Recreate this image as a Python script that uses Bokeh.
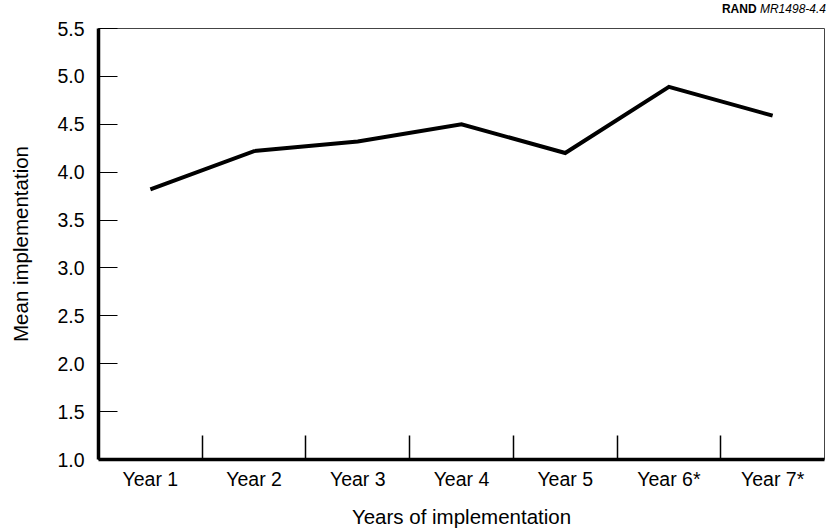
from bokeh.plotting import figure
from bokeh.models import FixedTicker, Range1d, ColumnDataSource, Div
from bokeh.layouts import column
from bokeh.embed import file_html
from bokeh.resources import INLINE

categories = ["Year 1", "Year 2", "Year 3", "Year 4", "Year 5", "Year 6*", "Year 7*"]
mean_impl = [3.82, 4.22, 4.32, 4.5, 4.2, 4.89, 4.59]
y_ticks = [1.0, 1.5, 2.0, 2.5, 3.0, 3.5, 4.0, 4.5, 5.0, 5.5]

xpos = [i + 0.5 for i in range(len(categories))]
separators = list(range(1, len(categories)))

FONT = "Liberation Sans"

note = Div(text='<b>RAND</b> <i>MR1498-4.4</i>', width=826, height=16,
           styles={"text-align": "right", "font-family": FONT, "font-size": "12px",
                   "color": "black", "padding-top": "2px", "line-height": "14px",
                   "margin": "0px"})

p = figure(width=826, height=515, output_backend="svg", toolbar_location=None,
           x_range=Range1d(0, len(categories)), y_range=Range1d(1.0, 5.5),
           min_border_left=98, min_border_right=2, min_border_top=12, min_border_bottom=72)
p.background_fill_color = "white"
p.border_fill_color = "white"
p.xgrid.visible = False
p.ygrid.visible = False
p.outline_line_color = "#444444"
p.outline_line_width = 1

src = ColumnDataSource(dict(x=xpos, y=mean_impl))
p.line("x", "y", source=src, line_color="black", line_width=4, line_join="miter")

p.xaxis.ticker = FixedTicker(ticks=xpos, minor_ticks=separators)
p.xaxis.major_label_overrides = {x: c for x, c in zip(xpos, categories)}
p.xaxis.major_tick_in = 0
p.xaxis.major_tick_out = 0
p.xaxis.minor_tick_in = 24
p.xaxis.minor_tick_out = 0
p.xaxis.minor_tick_line_color = "black"
p.xaxis.minor_tick_line_width = 1.5
p.xaxis.axis_line_width = 3.5
p.xaxis.axis_line_color = "black"
p.xaxis.major_label_text_font = FONT
p.xaxis.major_label_text_font_size = "19.5px"
p.xaxis.major_label_text_color = "black"
p.xaxis.major_label_standoff = 8
p.xaxis.axis_label = "Years of implementation"
p.xaxis.axis_label_text_font = FONT
p.xaxis.axis_label_text_font_size = "20.5px"
p.xaxis.axis_label_text_font_style = "normal"
p.xaxis.axis_label_text_color = "black"
p.xaxis.axis_label_standoff = 12

p.yaxis.ticker = FixedTicker(ticks=y_ticks, minor_ticks=[])
p.yaxis.major_label_overrides = {t: f"{t:.1f}" for t in y_ticks}
p.yaxis.major_tick_in = 19
p.yaxis.major_tick_out = 0
p.yaxis.major_tick_line_color = "black"
p.yaxis.major_tick_line_width = 1.2
p.yaxis.axis_line_width = 3.5
p.yaxis.axis_line_color = "black"
p.yaxis.major_label_text_font = FONT
p.yaxis.major_label_text_font_size = "19.5px"
p.yaxis.major_label_text_color = "black"
p.yaxis.major_label_standoff = 14
p.yaxis.axis_label = "Mean implementation"
p.yaxis.axis_label_text_font = FONT
p.yaxis.axis_label_text_font_size = "20.5px"
p.yaxis.axis_label_text_font_style = "normal"
p.yaxis.axis_label_text_color = "black"
p.yaxis.axis_label_standoff = 22

layout = column(note, p, spacing=0)

open("out.html", "w").write(file_html(layout, INLINE))
